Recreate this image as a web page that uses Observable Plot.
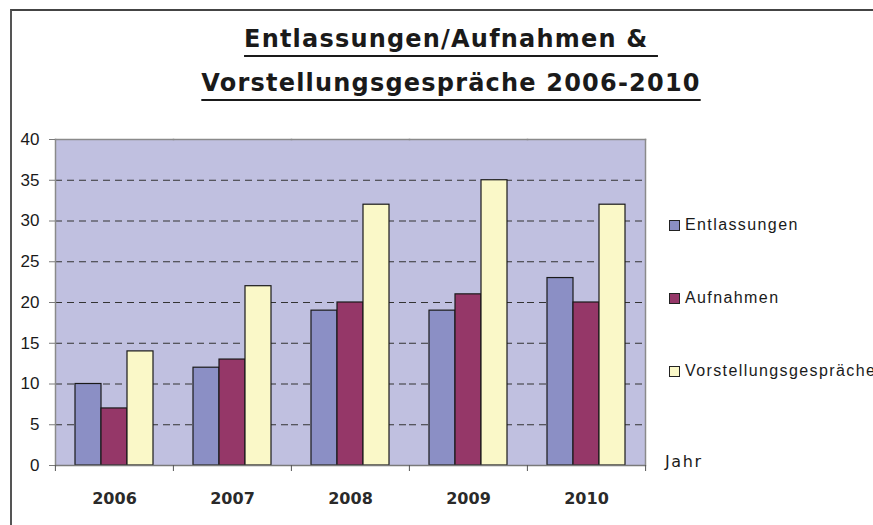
<!DOCTYPE html>
<html>
<head>
<meta charset="utf-8">
<script src="https://cdn.jsdelivr.net/npm/d3@7"></script>
<script src="https://cdn.jsdelivr.net/npm/@observablehq/plot@0.6"></script>
<style>
  html, body { margin: 0; padding: 0; background: #fff; }
  #wrap { position: relative; width: 873px; height: 525px; overflow: hidden; background: #fff; }
  #border { position: absolute; left: 10px; top: 9px; width: 880px; height: 540px;
            border-left: 2px solid #555; border-top: 2px solid #444; box-sizing: border-box; }
  #title { position: absolute; left: 0; width: 902px; top: 17px; text-align: center;
           font-family: "DejaVu Sans", sans-serif; font-weight: bold; font-size: 24px;
           letter-spacing: 1.2px; color: #1a1a1a; line-height: 44px; }
  #title span { text-decoration: underline; text-decoration-thickness: 2px; text-underline-offset: 8px; }
  #chart { position: absolute; left: 0; top: 120px; }
  #legend { position: absolute; left: 669px; top: 0; font-family: "Liberation Sans", Arial, sans-serif;
            font-size: 16px; letter-spacing: 1.4px; color: #1a1a1a; white-space: nowrap; }
  .item { position: absolute; left: 0; display: flex; align-items: center; }
  .sw { width: 9px; height: 9px; border: 1px solid #222; margin-right: 5px; }
  #jahr { position: absolute; left: 665px; top: 452px; font-family: "DejaVu Sans", sans-serif;
          font-size: 16px; letter-spacing: 1.6px; color: #1a1a1a; }
</style>
</head>
<body>
<div id="wrap">
  <div id="border"></div>
  <div id="title"><span>Entlassungen/Aufnahmen &amp;&nbsp;</span><br><span>Vorstellungsgespräche 2006-2010</span></div>
  <div id="chart"></div>
  <div id="legend"></div>
  <div id="jahr">Jahr</div>
</div>
<script>
const years = ["2006", "2007", "2008", "2009", "2010"];
const series = ["Entlassungen", "Aufnahmen", "Vorstellungsgespräche"];
const entlassungen = [10, 12, 19, 19, 23];
const aufnahmen = [7, 13, 20, 21, 20];
const vorstellungsgespraeche = [14, 22, 32, 35, 32];
const yTicks = [0, 5, 10, 15, 20, 25, 30, 35, 40];
const gridTicks = [5, 10, 15, 20, 25, 30, 35];
const colors = ["#8B8FC5", "#953768", "#FAF8C8"];
const xAxisTitle = "Jahr";

const valuesBySeries = [entlassungen, aufnahmen, vorstellungsgespraeche];
const data = [];
years.forEach((yr, i) => {
  series.forEach((s, j) => data.push({year: yr, series: s, value: valuesBySeries[j][i]}));
});

const W = 873, H = 405, mL = 54, mR = 228, mT = 19, mB = 60;
const band = (W - mL - mR) / years.length;
const first = years[0], last = years[years.length - 1];

const chart = Plot.plot({
  width: W, height: H,
  marginLeft: mL, marginRight: mR, marginTop: mT, marginBottom: mB,
  style: {background: "transparent", overflow: "visible"},
  fx: {domain: years, paddingInner: 0, paddingOuter: 0, label: null},
  x: {domain: series, paddingInner: 0, paddingOuter: 0.75, axis: null},
  y: {domain: [0, 40], label: null},
  color: {domain: series, range: colors},
  marks: [
    Plot.frame({fill: "#C0C0E0", stroke: "none", insetLeft: -0.6, insetRight: -0.6, shapeRendering: "crispEdges"}),
    Plot.ruleY(gridTicks, {stroke: "#333", strokeWidth: 1.2, strokeDasharray: "7,5"}),
    Plot.frame({anchor: "top", stroke: "#8a8a8a", strokeWidth: 1.5}),
    Plot.frame({anchor: "left", stroke: "#8a8a8a", strokeWidth: 1.5, fx: [first]}),
    Plot.frame({anchor: "right", stroke: "#8a8a8a", strokeWidth: 1.5, fx: [last]}),
    Plot.barY(data, {fx: "year", x: "series", y: "value", fill: "series", stroke: "#1a1a1a", strokeWidth: 1.2}),
    Plot.ruleY([0], {stroke: "#7a7a7a", strokeWidth: 1.5}),
    Plot.axisY({ticks: yTicks, tickSize: 6, tickPadding: 10, stroke: "#7a7a7a",
                fontSize: 17, fontFamily: "Liberation Sans, Arial, sans-serif", fill: "#1a1a1a", label: null}),
    Plot.axisFx({anchor: "bottom", tickSize: 0, tickPadding: 27, fontSize: 16, fontWeight: "bold",
                 fontFamily: "DejaVu Sans, sans-serif", fill: "#2a2a2a", label: null}),
    Plot.axisFx({anchor: "bottom", tickSize: 6, tickFormat: () => "", dx: -band / 2, stroke: "#555", label: null}),
    Plot.axisFx({anchor: "bottom", ticks: [last], tickSize: 6, tickFormat: () => "", dx: band / 2, stroke: "#555", label: null})
  ]
});
document.getElementById("chart").appendChild(chart);

const legend = document.getElementById("legend");
const legendY = [225, 298, 371];
series.forEach((s, i) => {
  const item = document.createElement("div");
  item.className = "item";
  item.style.top = (legendY[i] - 10) + "px";
  item.style.height = "20px";
  const sw = document.createElement("span");
  sw.className = "sw";
  sw.style.background = colors[i];
  item.appendChild(sw);
  const t = document.createElement("span");
  t.textContent = s;
  item.appendChild(t);
  legend.appendChild(item);
});
document.getElementById("jahr").textContent = xAxisTitle;
</script>
</body>
</html>
